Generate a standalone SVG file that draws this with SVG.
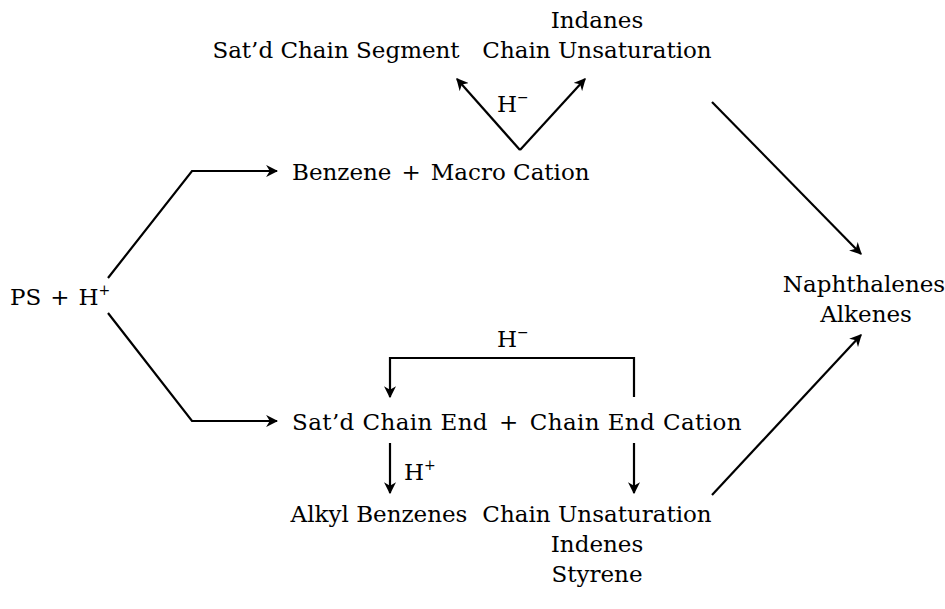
<svg xmlns="http://www.w3.org/2000/svg" width="945" height="609" viewBox="0 0 945 609">
  <style>
    text { font-family: "DejaVu Serif", "Liberation Serif", serif; font-size: 23px; fill: #000; }
    .mid { text-anchor: middle; }
    .sup { font-size: 14px; }
    .wire { fill: none; stroke: #000; stroke-width: 2.2; }
  </style>
  <defs>
    <marker id="arrow" viewBox="0 0 10 10" refX="9" refY="5" markerWidth="5.5" markerHeight="5.5" orient="auto" markerUnits="strokeWidth">
      <path d="M0,0 L10,5 L0,10 L3,5 Z" fill="#000"/>
    </marker>
  </defs>
  <rect width="945" height="609" fill="#fff"/>

  <g id="connectors">
    <polyline class="wire" points="108,278 192,171 277,171" marker-end="url(#arrow)"/>
    <polyline class="wire" points="108,313 192,421 277,421" marker-end="url(#arrow)"/>
    <line class="wire" x1="520" y1="150" x2="457" y2="79" marker-end="url(#arrow)"/>
    <line class="wire" x1="520" y1="150" x2="585" y2="79" marker-end="url(#arrow)"/>
    <line class="wire" x1="712" y1="102" x2="861" y2="254" marker-end="url(#arrow)"/>
    <line class="wire" x1="712" y1="495" x2="861" y2="335" marker-end="url(#arrow)"/>
    <polyline class="wire" points="634,397 634,358 390,358 390,397" marker-end="url(#arrow)"/>
    <line class="wire" x1="390" y1="443" x2="390" y2="493" marker-end="url(#arrow)"/>
    <line class="wire" x1="634" y1="443" x2="634" y2="493" marker-end="url(#arrow)"/>
  </g>

  <g id="ps-h">
    <text x="10" y="305">PS<tspan dx="9">+</tspan><tspan dx="9">H</tspan><tspan class="sup" dy="-10">+</tspan></text>
  </g>
  <g id="benzene-macro-cation">
    <text x="292" y="180">Benzene<tspan dx="10">+</tspan><tspan dx="10">Macro Cation</tspan></text>
  </g>
  <g id="satd-chain-segment">
    <text class="mid" x="336" y="58">Sat’d Chain Segment</text>
  </g>
  <g id="indanes-chain-unsaturation">
    <text class="mid" x="597" y="28">Indanes</text>
    <text class="mid" x="597" y="58">Chain Unsaturation</text>
  </g>
  <g id="hydride-top">
    <text x="497" y="112">H<tspan class="sup" dy="-10">−</tspan></text>
  </g>
  <g id="naphthalenes-alkenes">
    <text class="mid" x="864" y="292">Naphthalenes</text>
    <text class="mid" x="866" y="322">Alkenes</text>
  </g>
  <g id="hydride-bracket">
    <text x="497" y="347">H<tspan class="sup" dy="-10">−</tspan></text>
  </g>
  <g id="satd-chain-end-cation">
    <text x="292" y="430" letter-spacing="0.4">Sat’d Chain End<tspan dx="11">+</tspan><tspan dx="11">Chain End Cation</tspan></text>
  </g>
  <g id="proton-label">
    <text x="404" y="480">H<tspan class="sup" dy="-10">+</tspan></text>
  </g>
  <g id="alkyl-benzenes">
    <text class="mid" x="379" y="522">Alkyl Benzenes</text>
  </g>
  <g id="unsaturation-indenes-styrene">
    <text class="mid" x="597" y="522">Chain Unsaturation</text>
    <text class="mid" x="597" y="552">Indenes</text>
    <text class="mid" x="597" y="582">Styrene</text>
  </g>
</svg>
